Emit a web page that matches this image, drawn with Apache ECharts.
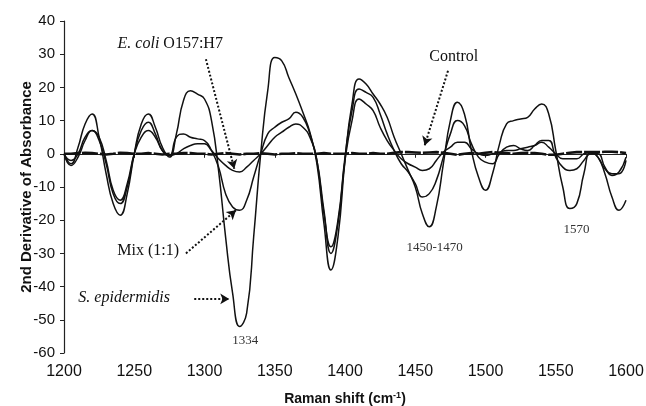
<!DOCTYPE html>
<html>
<head>
<meta charset="utf-8">
<script src="https://cdn.jsdelivr.net/npm/echarts@6/dist/echarts.min.js"></script>
<style>
  html, body { margin: 0; padding: 0; background: #fff; }
  #chart { width: 646px; height: 406px; }
</style>
</head>
<body>
<div id="chart"></div>
<script>
// Raman shift (cm-1), every 5
var shift = [];
for (var r = 1200; r <= 1600; r += 5) shift.push(r);

var sEpi = [0, -3, 2, 9, 12, 5, -6, -15, -18.5, -12,
  0, 9, 12, 8, 2, -1, 6, 16, 19, 18,
  16.5, 10, -5, -25, -42, -52, -48, -25, 0, 19,
  29, 28, 23, 18, 12.5, 6.5, -3, -21, -35, -25,
  -2, 15, 22.5, 21, 18, 15, 11, 5, 0, -5,
  -10, -18, -22, -16, -3, 10, 15.5, 12, 1, -7,
  -11, -6, 3, 9, 10, 10.5, 11, 13.5, 15, 12,
  1, -10, -16.5, -15, -6, 0.5, -1, -6, -13, -17, -14];

var mix = [0, -2, 0, 5, 7, 4, -3, -12, -15, -10,
  0, 7, 9.5, 6, 1, -0.5, 5, 6, 5, 4.5,
  4, 1, -4, -12, -16, -17, -14, -7, 0, 6,
  8, 9.5, 10.5, 12.5, 11, 6, -2, -18, -28, -20,
  -1, 13, 19.5, 18.5, 17, 12, 6, 1, -3, -5.5,
  -9, -13, -12, -8, -1, 6, 10, 8.5, 3, -1,
  -2.5, -3, 0, 2, 2.5, 1.5, 1, 2.5, 4, 4,
  -1, -4, -5, -4.5, -2, 0, 0, -4, -6.5, -5.5, -1];

var eColi = [0, -3.5, -1, 4, 7, 5, -2, -11, -14, -9,
  0, 5, 7, 5, 1, -0.5, 0, 1.5, 2.5, 3,
  3, 1, -1.5, -3.5, -5, -5.5, -4, -2, 0, 2.5,
  5, 6.5, 8, 9, 8, 5, -2, -17, -30, -21,
  -2, 10, 16.5, 15, 13, 8, 4, 1, -1.5, -3,
  -4, -5, -4.5, -2, 0.5, 2, 3.5, 3.5, 1.5, 0,
  -0.5, 0, 0.5, 1, 1, 1.5, 2, 2.5, 3.5, 2,
  0, -1.5, -1.5, -1.5, 0, 0.5, -1, -4.5, -6, -6, -2];

var control = [0, 0, 0.2, 0.3, 0.2, 0, -0.2, 0, 0.3, 0.2,
  0, 0, 0.2, 0, -0.2, 0, 0, 0.2, 0.2, 0,
  0, -0.2, 0, 0.2, 0, -0.2, 0, 0, 0.2, 0,
  -0.2, 0, 0, 0.2, 0, 0, 0, 0.2, 0, 0,
  0, 0.2, 0, 0, 0.2, 0, 0, 0.3, 0.5, 0.5,
  0.4, 0.3, 0.4, 0.5, 0.3, 0, -0.3, 0, 0.2, 0,
  0.3, 0.5, 0.3, 0.2, 0, 0.2, 0.3, 0.2, 0, -0.3,
  -0.3, 0, 0.3, 0.5, 0.5, 0.5, 0.5, 0.6, 0.6, 0.5, 0.2];

var yTicks = [40, 30, 20, 10, 0, -10, -20, -30, -40, -50, -60];
var xTicks = [1200, 1250, 1300, 1350, 1400, 1450, 1500, 1550, 1600];

// annotation labels [shift, value, text, size]
var labels = [
  [1275.6, 33.1, '{i|E. coli} O157:H7', 'big'],
  [1477.4, 29.2, 'Control', 'big'],
  [1259.9, -29.2, 'Mix (1:1)', 'big'],
  [1242.8, -43.3, '{i|S. epidermidis}', 'big'],
  [1329, -56.4, '1334', 'small'],
  [1463.8, -28.3, '1450-1470', 'small'],
  [1564.8, -22.7, '1570', 'small']
];
// dotted arrows [from, to]
var arrows = [
  [[1301, 28.5], [1321.2, -4.5]],
  [[1473.3, 25], [1456.7, 2.5]],
  [[1286.8, -30], [1322.4, -17]],
  [[1292.7, -43.7], [1317.6, -43.7]]
];

function pairs(vals) {
  return shift.map(function (x, i) { return [x, vals[i]]; });
}

var chart = echarts.init(document.getElementById('chart'));
var serif = 'Liberation Serif';
var sans = 'Liberation Sans';

function lineSeries(name, vals, w) {
  return {
    name: name,
    type: 'line',
    data: pairs(vals),
    smooth: true,
    symbol: 'none',
    lineStyle: { color: '#111', width: w }
  };
}

var ctl = lineSeries('Control', control, 2.6);
ctl.smooth = false;
ctl.lineStyle.type = [16, 2];
ctl.z = 3;
ctl.markLine = {
  silent: true,
  symbol: ['none', 'arrow'],
  symbolSize: [8, 9],
  label: { show: false },
  lineStyle: { color: '#111', type: [2, 2], width: 2 },
  data: arrows.map(function (a) {
    return [{ coord: a[0] }, { coord: a[1] }];
  })
};
ctl.markPoint = {
  silent: true,
  symbol: 'circle',
  symbolSize: 0,
  data: labels.map(function (l) {
    var big = l[3] === 'big';
    return {
      coord: [l[0], l[1]],
      label: {
        show: true,
        position: 'inside',
        formatter: l[2],
        fontFamily: serif,
        fontSize: big ? 16 : 13,
        color: big ? '#111' : '#333',
        rich: { i: { fontFamily: serif, fontStyle: 'italic', fontSize: 16, color: '#111' } }
      }
    };
  })
};

chart.setOption({
  animation: false,
  grid: { left: 64, right: 20, top: 21, bottom: 53, outerBoundsMode: 'none' },
  xAxis: {
    type: 'value',
    min: 1200, max: 1600, interval: 50,
    name: 'Raman shift (cm{s|-1})',
    nameLocation: 'middle',
    nameGap: 38,
    nameMoveOverlap: false,
    nameTextStyle: {
      fontFamily: sans, fontWeight: 'bold', fontSize: 14, color: '#111',
      rich: { s: { fontFamily: sans, fontWeight: 'bold', fontSize: 9, color: '#111', verticalAlign: 'top', padding: [0, 0, 8, 0] } }
    },
    axisLine: { lineStyle: { color: '#222', width: 1.2 } },
    axisTick: { length: 4, lineStyle: { color: '#222' } },
    axisLabel: {
      fontFamily: sans, fontSize: 16, color: '#111', margin: 11,
      customValues: xTicks,
      formatter: function (v) { return String(v); }
    },
    splitLine: { show: false }
  },
  yAxis: {
    type: 'value',
    min: -60, max: 40, interval: 10,
    name: '2nd Derivative of Absorbance',
    nameLocation: 'middle',
    nameGap: 30,
    nameMoveOverlap: false,
    nameTextStyle: { fontFamily: sans, fontWeight: 'bold', fontSize: 15, color: '#111' },
    axisLine: { show: true, lineStyle: { color: '#222', width: 1.2 } },
    axisTick: { show: true, length: 4, lineStyle: { color: '#222' } },
    axisLabel: {
      fontFamily: sans, fontSize: 15, color: '#111', margin: 9,
      customValues: yTicks
    },
    splitLine: { show: false }
  },
  series: [
    lineSeries('S. epidermidis', sEpi, 1.5),
    lineSeries('Mix (1:1)', mix, 1.5),
    lineSeries('E. coli O157:H7', eColi, 1.5),
    ctl
  ]
});
</script>
</body>
</html>
